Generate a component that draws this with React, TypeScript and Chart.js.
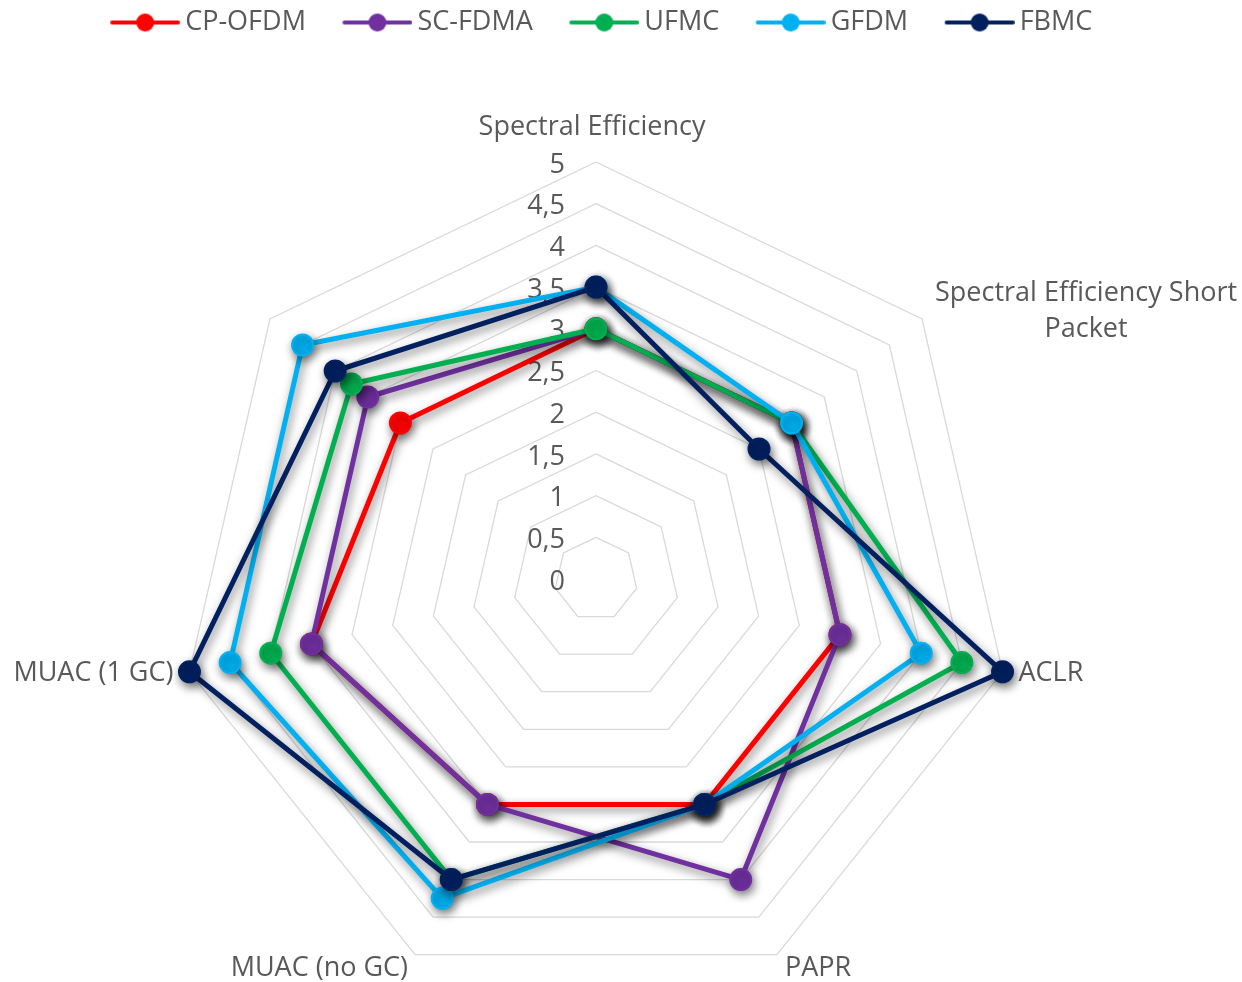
import React, { useEffect, useRef } from 'react';
import { Chart, registerables } from 'chart.js';

Chart.register(...registerables);

// ---------- data ----------
const axisLabels: (string | string[])[] = [
  'Spectral Efficiency',
  ['Spectral Efficiency Short', 'Packet'],
  'ACLR',
  'PAPR',
  'MUAC (no GC)',
  'MUAC (1 GC)',
  '',
];
const seriesNames = ['CP-OFDM', 'SC-FDMA', 'UFMC', 'GFDM', 'FBMC'];
const cpOfdm = [3, 3, 3, 3, 3, 3.5, 3];
const scFdma = [3, 3, 3, 4, 3, 3.5, 3.5];
const ufmc = [3, 3, 4.5, 3, 4, 4, 3.75];
const gfdm = [3.5, 3, 4, 3, 4.25, 4.5, 4.5];
const fbmc = [3.5, 2.5, 5, 3, 4, 5, 4];
const seriesData = [cpOfdm, scFdma, ufmc, gfdm, fbmc];
const seriesColors = ['#FF0000', '#7030A0', '#00B050', '#00B0F0', '#002060'];
const scaleMin = 0;
const scaleMax = 5;
const scaleStep = 0.5;

// ---------- style ----------
const FONT = 'Open Sans';
const FONT_SIZE = 27;
const TEXT_COLOR = '#595959';
const CANVAS_W = 1242;
const CANVAS_H = 982;
const CENTER_X = 596;
const CENTER_Y = 579;
const RADIUS = 417;

const labelPlacement = [
  { align: 'center', dx: -4, dy: -35 },
  { align: 'left', dx: 13, dy: -8 },
  { align: 'left', dx: 16, dy: 2 },
  { align: 'left', dx: 8, dy: 14 },
  { align: 'right', dx: -7, dy: 14 },
  { align: 'right', dx: -16, dy: 2 },
  { align: 'center', dx: 0, dy: 0 },
];

function legendIcon(color: string) {
  const c = document.createElement('canvas');
  c.width = 105;
  c.height = 22;
  const g = c.getContext('2d')!;
  g.strokeStyle = color;
  g.lineWidth = 4;
  g.lineCap = 'round';
  g.beginPath();
  g.moveTo(37, 11);
  g.lineTo(103, 11);
  g.stroke();
  g.fillStyle = color;
  g.beginPath();
  g.arc(70, 11, 9, 0, Math.PI * 2);
  g.fill();
  return c;
}

const shadowPlugin = {
  id: 'lineShadow',
  beforeDatasetsDraw(chart: any) {
    const ctx = chart.ctx;
    ctx.save();
    ctx.shadowColor = 'rgba(0,0,0,0.5)';
    ctx.shadowBlur = 10;
    ctx.shadowOffsetX = 2;
    ctx.shadowOffsetY = 4;
  },
  afterDatasetsDraw(chart: any) {
    chart.ctx.restore();
  },
};

const textPlugin = {
  id: 'radarText',
  beforeDatasetsDraw(chart: any) {
    const s = chart.scales.r;
    const ctx = chart.ctx;
    ctx.save();
    ctx.font = `${FONT_SIZE}px "${FONT}"`;
    ctx.fillStyle = TEXT_COLOR;
    ctx.textBaseline = 'middle';
    // tick labels
    ctx.textAlign = 'right';
    s.ticks.forEach((t: any) => {
      const d = s.getDistanceFromCenterForValue(t.value);
      ctx.fillText(t.label, s.xCenter - 31, s.yCenter - d + 3);
    });
    // point labels
    const labels = chart.data.labels as (string | string[])[];
    const lineH = 36;
    labels.forEach((lab, i) => {
      const lines = Array.isArray(lab) ? lab : [lab];
      if (!lines.join('')) return;
      const p = s.getPointPosition(i, s.drawingArea);
      const pl = labelPlacement[i];
      const ax = p.x + pl.dx;
      const ay = p.y + pl.dy;
      const maxW = Math.max(...lines.map((l) => ctx.measureText(l).width));
      let left = ax - maxW / 2;
      if (pl.align === 'left') left = ax;
      if (pl.align === 'right') left = ax - maxW;
      const top = ay - (lines.length * lineH) / 2;
      ctx.textAlign = 'center';
      lines.forEach((l, k) => {
        ctx.fillText(l, left + maxW / 2, top + lineH * k + lineH / 2);
      });
    });
    ctx.restore();
  },
};

export default function App() {
  const ref = useRef<HTMLCanvasElement>(null);

  useEffect(() => {
    const icons = seriesColors.map(legendIcon);
    const chart = new Chart(ref.current!, {
      type: 'radar',
      data: {
        labels: axisLabels as any,
        datasets: seriesNames.map((name, i) => ({
          label: name,
          data: seriesData[i],
          borderColor: seriesColors[i],
          backgroundColor: seriesColors[i],
          fill: false,
          clip: false,
          borderWidth: 5,
          borderJoinStyle: 'round',
          pointRadius: 10.5,
          pointHoverRadius: 10.5,
          pointBorderWidth: 2,
          pointBackgroundColor: seriesColors[i],
          pointBorderColor: seriesColors[i],
          order: seriesNames.length - i,
        })) as any,
      },
      options: {
        responsive: false,
        animation: false,
        events: [],
        layout: { padding: { left: 0, right: 66, top: -1, bottom: 0 } },
        plugins: {
          tooltip: { enabled: false },
          legend: {
            position: 'top',
            labels: {
              usePointStyle: true,
              pointStyleWidth: 88,
              padding: 10,
              color: TEXT_COLOR,
              font: { family: FONT, size: FONT_SIZE },
              sort: (a: any, b: any) => a.datasetIndex - b.datasetIndex,
              generateLabels: (c: any) =>
                (Chart.defaults.plugins.legend.labels.generateLabels as any)(c).map((it: any) => ({
                  ...it,
                  pointStyle: icons[it.datasetIndex],
                })),
            },
          },
        },
        scales: {
          r: {
            min: scaleMin,
            max: scaleMax,
            ticks: {
              stepSize: scaleStep,
              display: false,
              callback: (v: any) => String(v).replace('.', ','),
            },
            grid: { color: '#D9D9D9', lineWidth: 1.3 },
            angleLines: { display: false },
            pointLabels: { display: false },
            afterFit: (scale: any) => {
              scale.xCenter = CENTER_X;
              scale.yCenter = CENTER_Y;
              scale.drawingArea = RADIUS;
            },
          },
        },
      } as any,
      plugins: [textPlugin, shadowPlugin],
    });
    return () => chart.destroy();
  }, []);

  return (
    <div
      style={{
        position: 'fixed',
        left: 0,
        top: 0,
        width: CANVAS_W,
        height: CANVAS_H,
        overflow: 'hidden',
        background: '#fff',
      }}
    >
      <canvas ref={ref} width={CANVAS_W} height={CANVAS_H} style={{ display: 'block' }} />
    </div>
  );
}
